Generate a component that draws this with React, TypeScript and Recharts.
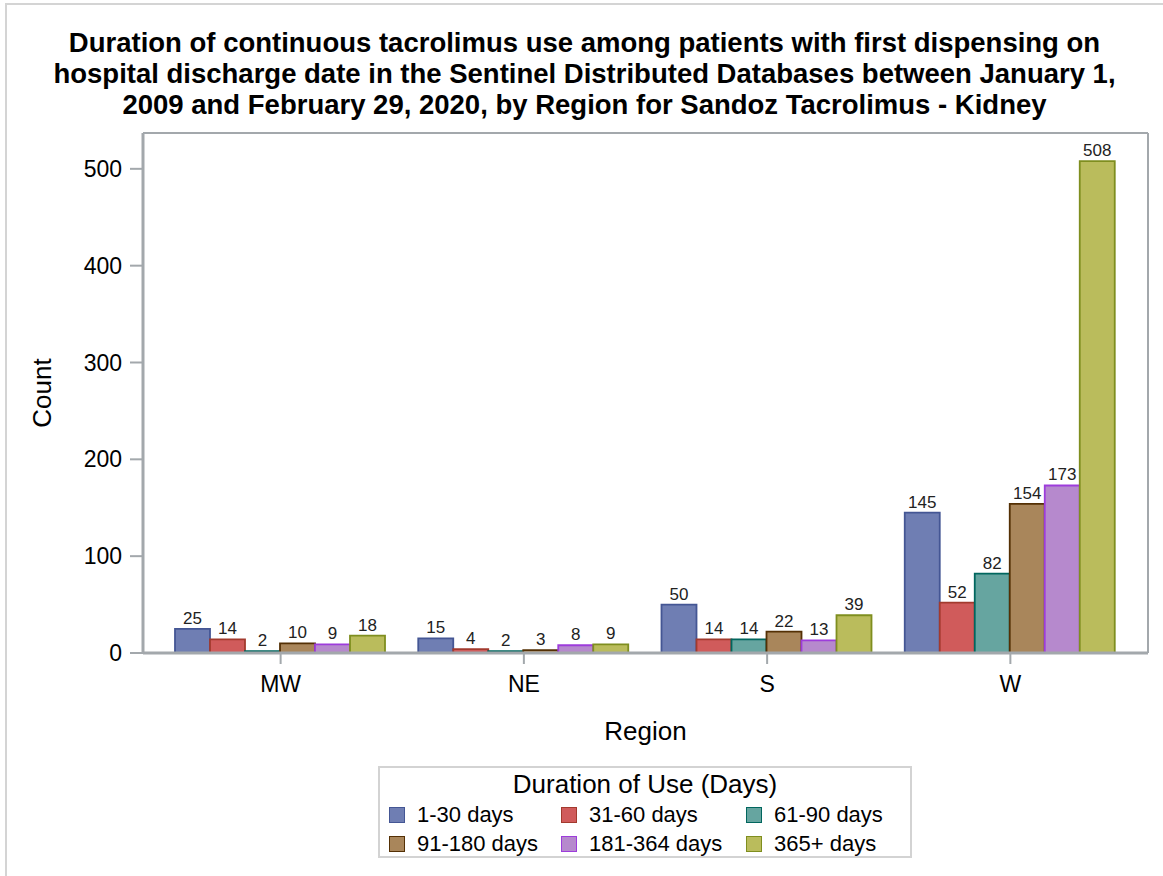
import React from 'react';
import {
  BarChart, Bar, XAxis, YAxis, Legend, LabelList, ReferenceLine,
} from 'recharts';

const regions = ['MW', 'NE', 'S', 'W'];
const days1to30 = [25, 15, 50, 145];
const days31to60 = [14, 4, 14, 52];
const days61to90 = [2, 2, 14, 82];
const days91to180 = [10, 3, 22, 154];
const days181to364 = [9, 8, 13, 173];
const days365plus = [18, 9, 39, 508];
const yTicks = [0, 100, 200, 300, 400, 500];
const yMax = 537;

const series = [
  { key: 'd1', name: '1-30 days', values: days1to30, fill: '#6f7eb3', stroke: '#445694' },
  { key: 'd2', name: '31-60 days', values: days31to60, fill: '#d05b5b', stroke: '#a23a2e' },
  { key: 'd3', name: '61-90 days', values: days61to90, fill: '#66a5a0', stroke: '#01665e' },
  { key: 'd4', name: '91-180 days', values: days91to180, fill: '#a9865b', stroke: '#543005' },
  { key: 'd5', name: '181-364 days', values: days181to364, fill: '#b689cd', stroke: '#9d3cdb' },
  { key: 'd6', name: '365+ days', values: days365plus, fill: '#babc5c', stroke: '#7f8e1f' },
];

const data = regions.map((region, i) => {
  const row: Record<string, string | number> = { region };
  series.forEach((s) => { row[s.key] = s.values[i]; });
  return row;
});

const FONT = '"Liberation Sans", Arial, sans-serif';
const AXIS = '#a3a8ac';

// legend box sits under the plot, laid out in 3 columns like the SAS output
function LegendBox() {
  return (
    <div
      style={{
        width: 534, height: 92, border: '2px solid #d3d3d3', boxSizing: 'border-box',
        fontFamily: FONT, color: '#000', background: '#fff',
      }}
    >
      <div style={{ textAlign: 'center', fontSize: 26, lineHeight: '31px', marginTop: 1 }}>
        Duration of Use (Days)
      </div>
      <div style={{ display: 'grid', gridTemplateColumns: '172px 185px 150px', paddingLeft: 9 }}>
        {series.map((s) => (
          <div key={s.key} style={{ display: 'flex', alignItems: 'center', height: 29, fontSize: 22 }}>
            <span
              style={{
                display: 'inline-block', width: 16, height: 16, background: s.fill,
                border: `1.5px solid ${s.stroke}`, boxSizing: 'border-box', marginRight: 12,
              }}
            />
            {s.name}
          </div>
        ))}
      </div>
    </div>
  );
}

export default function App() {
  return (
    <div style={{ position: 'absolute', left: 0, top: 0, width: 1163, height: 876, background: '#fff', overflow: 'hidden' }}>
      <div
        style={{
          position: 'absolute', left: 5, top: 3, width: 1200, height: 900,
          borderLeft: '2px solid #d4d4d4', borderTop: '2px solid #d4d4d4',
        }}
      />
      <div
        style={{
          position: 'absolute', left: 6, top: 27, width: 1157, textAlign: 'center',
          fontFamily: FONT, fontWeight: 'bold', fontSize: 27.5, lineHeight: '31px', color: '#000',
        }}
      >
        Duration of continuous tacrolimus use among patients with first dispensing on<br />
        hospital discharge date in the Sentinel Distributed Databases between January 1,<br />
        2009 and February 29, 2020, by Region for Sandoz Tacrolimus - Kidney
      </div>
      <div style={{ position: 'absolute', left: 0, top: 0 }}>
        <BarChart
          width={1163}
          height={876}
          data={data}
          margin={{ top: 133, right: 14, left: 0, bottom: 133 }}
          barCategoryGap={16}
          barGap={0}
        >
          <XAxis
            dataKey="region"
            height={90}
            padding={{ left: 16, right: 16 }}
            axisLine={{ stroke: AXIS, strokeWidth: 3 }}
            tickLine={{ stroke: AXIS, strokeWidth: 2 }}
            tickSize={11}
            tickMargin={12}
            tick={{ fill: '#000', fontSize: 23, fontFamily: FONT }}
            label={{ value: 'Region', position: 'insideBottom', offset: 3, fill: '#000', fontSize: 26, fontFamily: FONT }}
          />
          <YAxis
            width={143}
            domain={[0, yMax]}
            ticks={yTicks}
            interval={0}
            axisLine={{ stroke: AXIS, strokeWidth: 3 }}
            tickLine={{ stroke: AXIS, strokeWidth: 2 }}
            tickSize={13}
            tickMargin={8}
            tick={{ fill: '#000', fontSize: 23, fontFamily: FONT }}
            label={({ viewBox }: any) => {
              const cy = viewBox.y + viewBox.height / 2;
              return (
                <text x={42} y={cy} transform={`rotate(-90, 42, ${cy})`} textAnchor="middle"
                  dominantBaseline="central" fontSize={26} fontFamily={FONT} fill="#000">
                  Count
                </text>
              );
            }}
          />
          <YAxis yAxisId="right" orientation="right" width={1} domain={[0, yMax]} tick={false} tickLine={false}
            axisLine={{ stroke: AXIS, strokeWidth: 2 }} />
          <ReferenceLine y={yMax} stroke={AXIS} strokeWidth={2} />
          {series.map((s) => (
            <Bar key={s.key} dataKey={s.key} name={s.name} fill={s.fill} stroke={s.stroke}
              strokeWidth={1.8} isAnimationActive={false}>
              <LabelList dataKey={s.key} position="top" offset={5} fill="#222" fontSize={17} fontFamily={FONT} />
            </Bar>
          ))}
          <Legend
            layout="horizontal"
            verticalAlign="middle"
            align="center"
            wrapperStyle={{ left: 378, top: 766, width: 534 }}
            content={() => <LegendBox />}
          />
        </BarChart>
      </div>
    </div>
  );
}
